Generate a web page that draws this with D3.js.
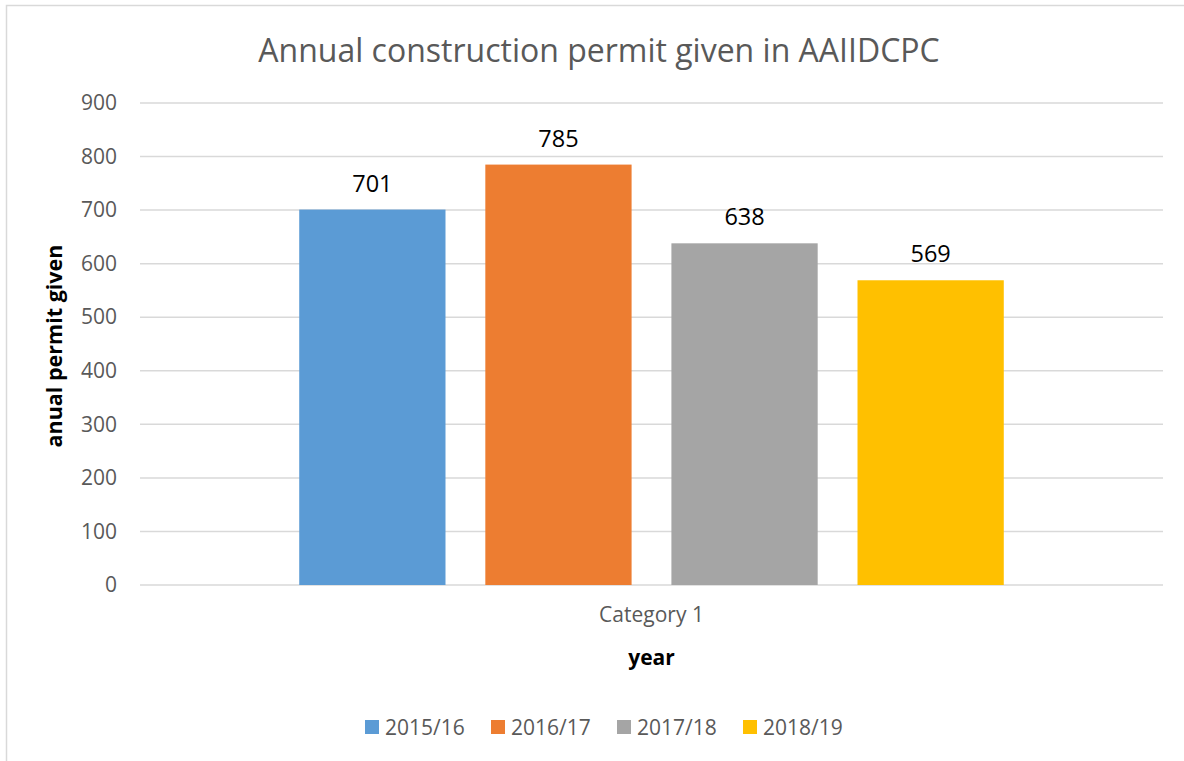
<!DOCTYPE html>
<html lang="en">
    <head>
        <meta charset="utf-8">
        <title>Annual construction permit given in AAIIDCPC</title>
        <style>
            body {
                margin: 0;
                background-color: white;
                font-family: "Open Sans", sans-serif;
            }
            .grid line {
                stroke: #d9d9d9;
                stroke-width: 1.5;
            }
        </style>
    </head>
    <body>
        <svg width="1184" height="761"></svg>
        <script src="https://cdn.jsdelivr.net/npm/d3@7"></script>
        <script>
            var categories = ["Category 1"];
            var seriesNames = ["2015/16", "2016/17", "2017/18", "2018/19"];
            var seriesValues = [701, 785, 638, 569];
            var seriesColors = ["#5b9bd5", "#ed7d31", "#a5a5a5", "#ffc000"];
            var yTicks = [0, 100, 200, 300, 400, 500, 600, 700, 800, 900];

            var svg = d3.select("svg"),
                margin = {top: 103, right: 21, bottom: 176, left: 140},
                width = +svg.attr("width") - margin.left - margin.right,
                height = +svg.attr("height") - margin.top - margin.bottom;

            // chart frame (runs off the right/bottom edge like the original)
            svg.append("rect")
                .attr("x", 6.5).attr("y", 5.5)
                .attr("width", 1185).attr("height", 760)
                .style("fill", "none")
                .style("stroke", "#d9d9d9")
                .style("stroke-width", 1.5);

            var g = svg.append("g").attr("transform", "translate(" + margin.left + "," + margin.top + ")");

            var y = d3.scaleLinear().domain([0, 900]).range([height, 0]);
            var x0 = d3.scaleBand().domain(categories).range([0, width]).paddingInner(0).paddingOuter(0.226);
            var x1 = d3.scaleBand().domain(seriesNames).range([0, x0.bandwidth()]).paddingInner(0.214).paddingOuter(0);

            // gridlines
            g.append("g").attr("class", "grid")
                .selectAll("line").data(yTicks).enter()
                .append("line")
                    .attr("x1", 0).attr("x2", width)
                    .attr("y1", function(d) { return y(d); })
                    .attr("y2", function(d) { return y(d); });

            // y axis labels
            var yAxis = g.append("g")
                .call(d3.axisLeft(y).tickValues(yTicks).tickSize(0).tickPadding(23));
            yAxis.select(".domain").remove();
            yAxis.selectAll("text")
                .style("font-family", "Open Sans")
                .style("font-size", "21px")
                .style("fill", "#595959");

            // bars
            var grp = g.selectAll(".cat").data(categories).enter()
                .append("g").attr("class", "cat")
                .attr("transform", function(d) { return "translate(" + x0(d) + ",0)"; });

            var rows = seriesNames.map(function(s, i) { return {name: s, value: seriesValues[i], color: seriesColors[i]}; });

            grp.selectAll("rect").data(rows).enter()
                .append("rect")
                    .attr("x", function(d) { return x1(d.name); })
                    .attr("y", function(d) { return y(d.value); })
                    .attr("width", x1.bandwidth())
                    .attr("height", function(d) { return height - y(d.value); })
                    .style("fill", function(d) { return d.color; });

            grp.selectAll(".lbl").data(rows).enter()
                .append("text").attr("class", "lbl")
                    .attr("x", function(d) { return x1(d.name) + x1.bandwidth() / 2; })
                    .attr("y", function(d) { return y(d.value) - 18; })
                    .attr("text-anchor", "middle")
                    .style("font-size", "23.5px")
                    .style("fill", "#000")
                    .text(function(d) { return d.value; });

            // x axis category label
            var xAxis = g.append("g")
                .attr("transform", "translate(0," + height + ")")
                .call(d3.axisBottom(x0).tickSize(0).tickPadding(22));
            xAxis.select(".domain").remove();
            xAxis.selectAll("text")
                .style("font-family", "Open Sans")
                .style("font-size", "21px")
                .style("fill", "#595959");

            // titles
            svg.append("text")
                .attr("x", 599).attr("y", 62)
                .attr("text-anchor", "middle")
                .style("font-size", "32px")
                .style("fill", "#595959")
                .text("Annual construction permit given in AAIIDCPC");

            svg.append("text")
                .attr("x", margin.left + width / 2).attr("y", 665)
                .attr("text-anchor", "middle")
                .style("font-size", "21px")
                .style("font-weight", "bold")
                .style("fill", "#000")
                .text("year");

            svg.append("text")
                .attr("transform", "translate(62,346)rotate(-90)")
                .attr("text-anchor", "middle")
                .style("font-size", "21.5px")
                .style("font-weight", "bold")
                .style("fill", "#000")
                .text("anual permit given");

            // legend
            var legend = svg.append("g");
            var lx = [365, 491, 617, 743];
            var items = legend.selectAll("g").data(rows).enter()
                .append("g")
                .attr("transform", function(d, i) { return "translate(" + lx[i] + ",720)"; });
            items.append("rect")
                .attr("width", 14).attr("height", 14)
                .style("fill", function(d) { return d.color; });
            items.append("text")
                .attr("x", 20).attr("y", 14.5)
                .style("font-size", "21px")
                .style("fill", "#595959")
                .text(function(d) { return d.name; });
        </script>
    </body>
</html>
